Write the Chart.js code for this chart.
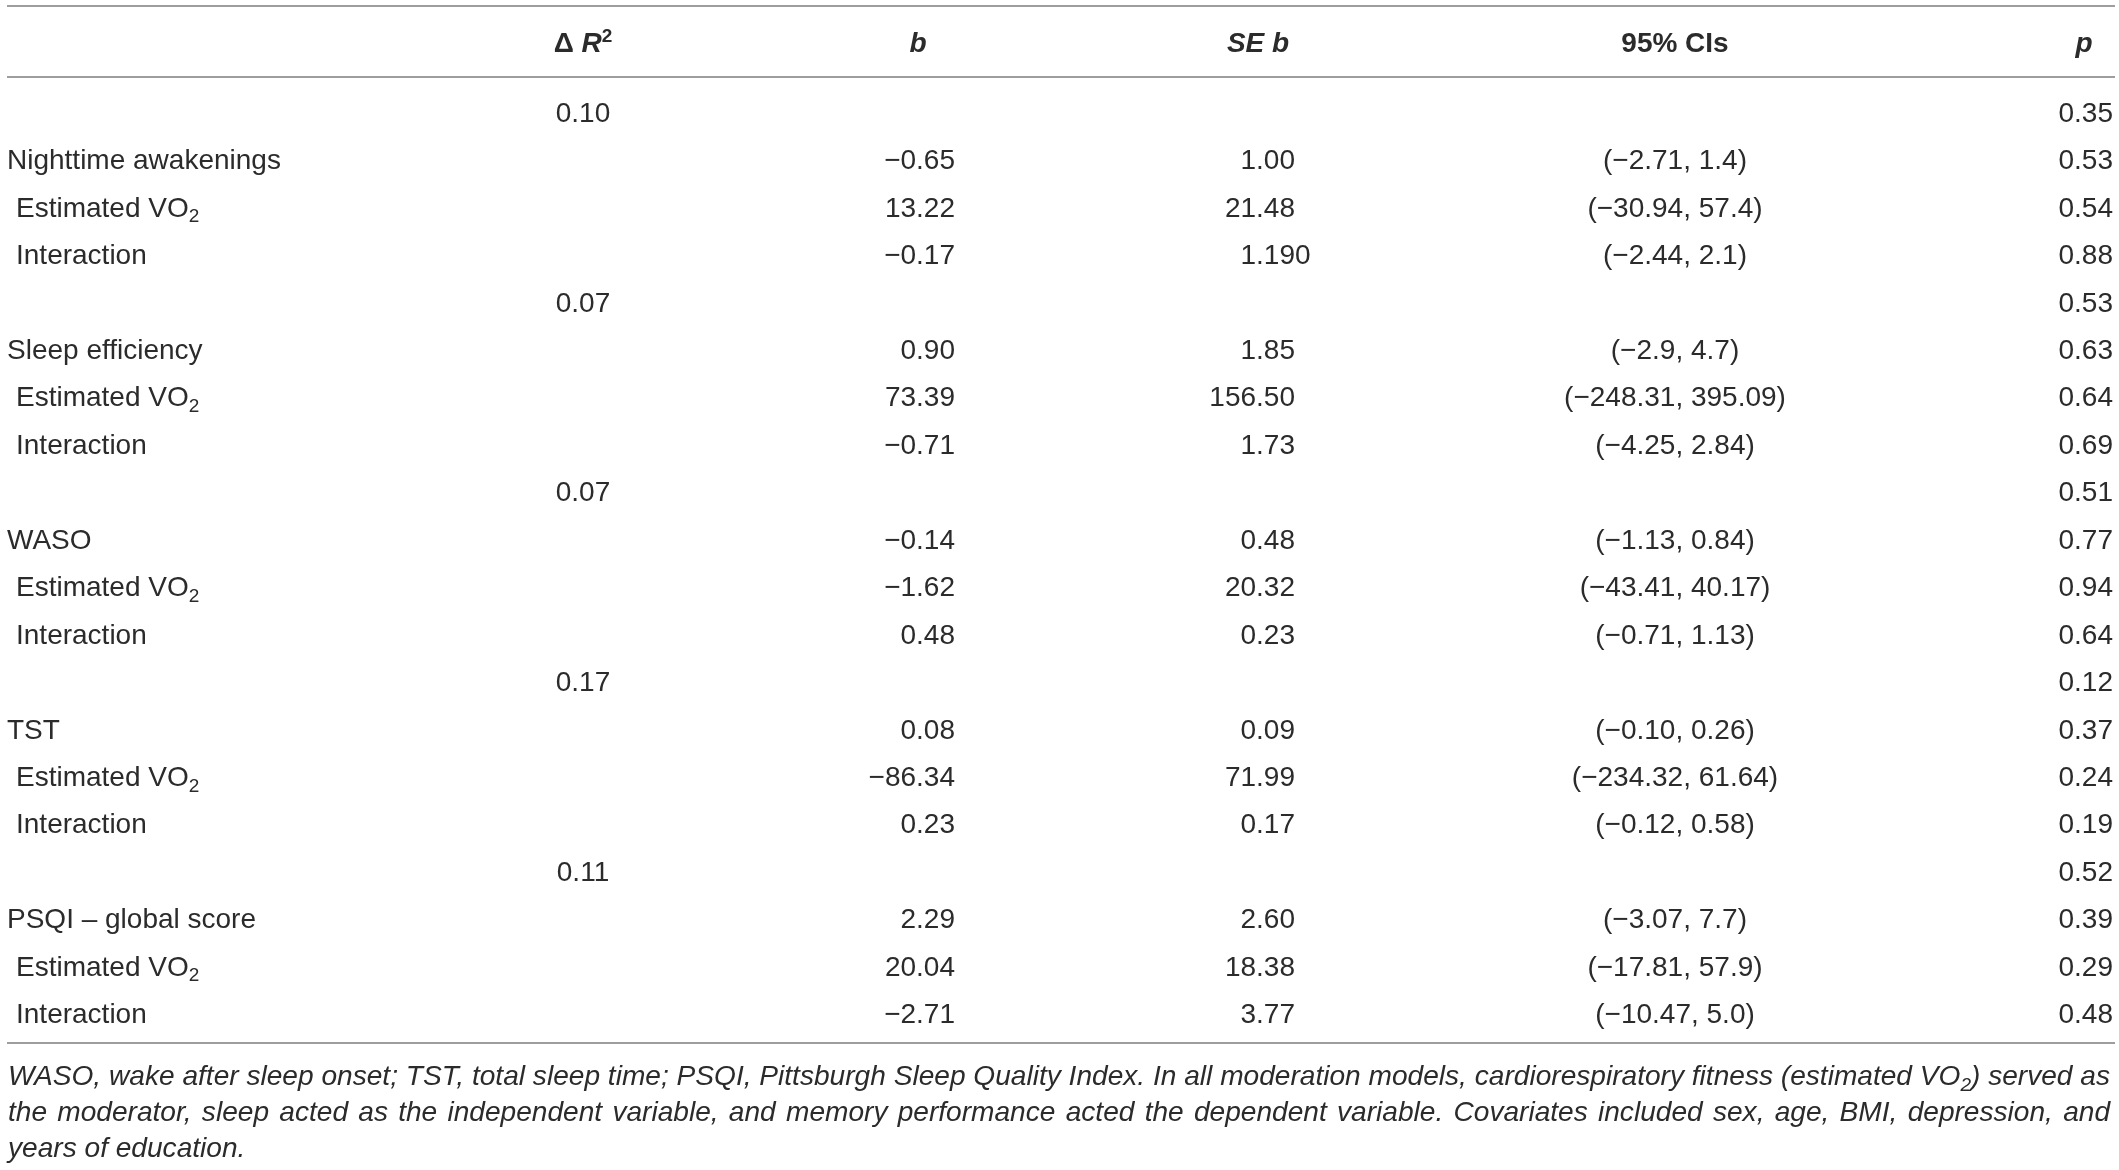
<!DOCTYPE html>
<html>
<head>
<meta charset="utf-8">
<script src="https://cdn.jsdelivr.net/npm/chart.js@4.4.1/dist/chart.umd.min.js"></script>
<style>
  html, body { margin: 0; padding: 0; background: #fff; }
  #wrap { width: 2119px; height: 1170px; position: relative; }
</style>
</head>
<body>
<div id="wrap"><canvas id="table"></canvas></div>
<script>
// table values, one entry per moderation model
const models = ['Nighttime awakenings', 'Sleep efficiency', 'WASO', 'TST', 'PSQI – global score'];
const terms = ['Estimated VO₂', 'Interaction'];
const deltaR2 = ['0.10', '0.07', '0.07', '0.17', '0.11'];
const modelP = ['0.35', '0.53', '0.51', '0.12', '0.52'];

// per model: [sleep variable, Estimated VO2, Interaction]
const bValues = [
  ['−0.65', '13.22', '−0.17'],
  ['0.90', '73.39', '−0.71'],
  ['−0.14', '−1.62', '0.48'],
  ['0.08', '−86.34', '0.23'],
  ['2.29', '20.04', '−2.71']
];
const seValues = [
  ['1.00', '21.48', '1.190'],
  ['1.85', '156.50', '1.73'],
  ['0.48', '20.32', '0.23'],
  ['0.09', '71.99', '0.17'],
  ['2.60', '18.38', '3.77']
];
const ciValues = [
  ['(−2.71, 1.4)', '(−30.94, 57.4)', '(−2.44, 2.1)'],
  ['(−2.9, 4.7)', '(−248.31, 395.09)', '(−4.25, 2.84)'],
  ['(−1.13, 0.84)', '(−43.41, 40.17)', '(−0.71, 1.13)'],
  ['(−0.10, 0.26)', '(−234.32, 61.64)', '(−0.12, 0.58)'],
  ['(−3.07, 7.7)', '(−17.81, 57.9)', '(−10.47, 5.0)']
];
const pValues = [
  ['0.53', '0.54', '0.88'],
  ['0.63', '0.64', '0.69'],
  ['0.77', '0.94', '0.64'],
  ['0.37', '0.24', '0.19'],
  ['0.39', '0.29', '0.48']
];

const footnote = [
  'WASO, wake after sleep onset; TST, total sleep time; PSQI, Pittsburgh Sleep Quality Index. In all moderation models, cardiorespiratory fitness (estimated VO₂) served as',
  'the moderator, sleep acted as the independent variable, and memory performance acted the dependent variable. Covariates included sex, age, BMI, depression, and',
  'years of education.'
];

// flatten into table rows
const rows = [];
models.forEach((m, i) => {
  rows.push({ label: '', dr2: deltaR2[i], b: '', se: '', ci: '', p: modelP[i] });
  [m].concat(terms).forEach((lab, k) => {
    rows.push({ label: lab, sub: k > 0, dr2: '', b: bValues[i][k], se: seValues[i][k], ci: ciValues[i][k], p: pValues[i][k] });
  });
});

// column layout (x in canvas units of the linear x scale)
const FAMILY = '"Liberation Sans", Arial, sans-serif';
const SIZE = 28;
const columns = [
  { key: 'label', x: 7, align: 'left' },
  { key: 'dr2', x: 583, align: 'center', headX: 583, head: [['Δ ', 'bold'], ['R', 'italic bold'], ['2', 'bold', 'sup']] },
  { key: 'b', x: 955, align: 'decimal', headX: 918, head: [['b', 'italic bold']] },
  { key: 'se', x: 1295, align: 'decimal', headX: 1258, head: [['SE b', 'italic bold']] },
  { key: 'ci', x: 1675, align: 'center', headX: 1675, head: [['95% CIs', 'bold']] },
  { key: 'p', x: 2113, align: 'right', headX: 2084, head: [['p', 'italic bold']] }
];

function font(style, size) {
  return style + ' ' + size + 'px ' + FAMILY;
}

// split a string into segments, turning ₂ into a subscript 2
function toSegs(str, style, size) {
  const out = [];
  str.split(/(₂)/).forEach(part => {
    if (!part) return;
    if (part === '₂') out.push({ t: '2', font: font(style, Math.round(size * 0.68)), dy: size * 0.2 });
    else out.push({ t: part, font: font(style, size), dy: 0 });
  });
  return out;
}

function segsWidth(ctx, segs) {
  let w = 0;
  segs.forEach(s => { ctx.font = s.font; w += ctx.measureText(s.t).width; });
  return w;
}

function drawSegs(ctx, segs, x, y, align) {
  const w = segsWidth(ctx, segs);
  let cx = align === 'center' ? x - w / 2 : align === 'right' ? x - w : x;
  segs.forEach(s => {
    ctx.font = s.font;
    ctx.fillText(s.t, cx, y + s.dy);
    cx += ctx.measureText(s.t).width;
  });
}

const datasets = columns.map(col => {
  const data = [];
  const texts = [];
  rows.forEach((r, i) => {
    if (!r[col.key]) return;
    data.push({ x: col.x + (col.key === 'label' && r.sub ? 9 : 0), y: i });
    texts.push(r[col.key]);
  });
  return { label: col.key, data: data, texts: texts, align: col.align, pointRadius: 0, pointHoverRadius: 0 };
});

const tablePlugin = {
  id: 'tableText',
  afterDatasetsDraw(chart) {
    const ctx = chart.ctx;
    const area = chart.chartArea;
    const sx = chart.scales.x;
    ctx.save();
    ctx.textAlign = 'left';
    ctx.textBaseline = 'alphabetic';

    // horizontal rules
    ctx.strokeStyle = '#9e9e9e';
    ctx.lineWidth = 2;
    const x0 = sx.getPixelForValue(7), x1 = sx.getPixelForValue(2115);
    [area.top - 82, area.top - 11, area.bottom + 6].forEach(y => {
      ctx.beginPath();
      ctx.moveTo(x0, y);
      ctx.lineTo(x1, y);
      ctx.stroke();
    });

    ctx.fillStyle = '#2b2b2b';

    // header row
    const headY = area.top - 36;
    columns.forEach(col => {
      if (!col.head) return;
      const segs = col.head.map(h => h[2] === 'sup'
        ? { t: h[0], font: font(h[1], 19), dy: -10 }
        : { t: h[0], font: font(h[1], SIZE), dy: 0 });
      drawSegs(ctx, segs, sx.getPixelForValue(col.headX), headY, 'center');
    });

    // body cells, positioned by the scales
    chart.data.datasets.forEach((ds, di) => {
      const meta = chart.getDatasetMeta(di);
      meta.data.forEach((pt, j) => {
        const txt = ds.texts[j];
        const y = pt.y + 10;
        if (ds.align === 'decimal') {
          ctx.font = font('normal', SIZE);
          const point = pt.x - ctx.measureText('.00').width;
          const intPart = txt.split('.')[0];
          ctx.fillText(txt, point - ctx.measureText(intPart).width, y);
        } else {
          drawSegs(ctx, toSegs(txt, 'normal', SIZE), pt.x, y, ds.align);
        }
      });
    });

    // footnote, justified; size fitted so the first line fills the width
    const left = sx.getPixelForValue(8), right = sx.getPixelForValue(2110);
    const natural = s => {
      ctx.font = font('italic', s);
      return footnote[0].split(' ').reduce((a, w) => a + segsWidth(ctx, toSegs(w, 'italic', s)), 0)
        + (footnote[0].split(' ').length - 1) * (ctx.font = font('italic', s), ctx.measureText(' ').width);
    };
    const fSize = Math.floor(24 * (right - left) / natural(24) * 10) / 10;
    footnote.forEach((line, li) => {
      const y = area.bottom + 48 + li * 36;
      const words = line.split(' ').map(w => toSegs(w, 'italic', fSize));
      const widths = words.map(w => segsWidth(ctx, w));
      const total = widths.reduce((a, b) => a + b, 0);
      ctx.font = font('italic', fSize);
      const last = li === footnote.length - 1;
      const gap = last ? ctx.measureText(' ').width : (right - left - total) / (words.length - 1);
      let cx = left;
      words.forEach((w, k) => {
        drawSegs(ctx, w, cx, y, 'left');
        cx += widths[k] + gap;
      });
    });
    ctx.restore();
  }
};

new Chart(document.getElementById('table'), {
  type: 'scatter',
  data: { datasets: datasets },
  options: {
    responsive: true,
    maintainAspectRatio: false,
    animation: false,
    events: [],
    layout: { padding: { left: 0, right: 0, top: 88, bottom: 133 } },
    plugins: { legend: { display: false }, tooltip: { enabled: false } },
    scales: {
      x: { type: 'linear', display: false, min: 0, max: 2119 },
      y: { type: 'linear', display: false, reverse: true, min: -0.5, max: rows.length - 0.5 }
    }
  },
  plugins: [tablePlugin]
});
</script>
</body>
</html>
